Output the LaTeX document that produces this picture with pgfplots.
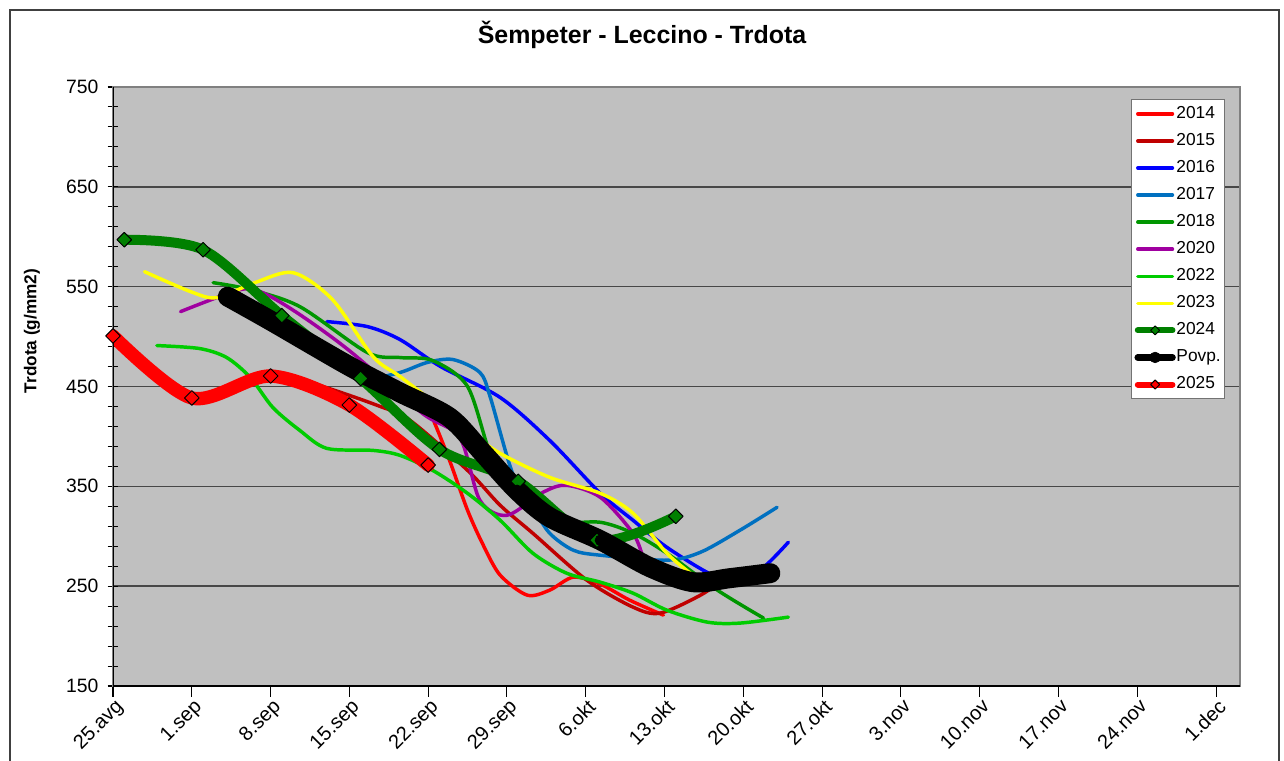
\documentclass[border=0pt]{standalone}
\usepackage{fontspec}
\setmainfont{Liberation Sans}
\usepackage{pgfplots}
\pgfplotsset{compat=1.18}
\definecolor{plotgray}{RGB}{192,192,192}
\definecolor{cA}{RGB}{255,0,0}
\definecolor{cB}{RGB}{192,0,0}
\definecolor{cC}{RGB}{0,0,255}
\definecolor{cD}{RGB}{0,112,192}
\definecolor{cE}{RGB}{0,150,0}
\definecolor{cF}{RGB}{160,0,160}
\definecolor{cG}{RGB}{0,204,0}
\definecolor{cH}{RGB}{255,255,0}
\definecolor{cI}{RGB}{0,128,0}
\pgfplotsset{
  legdiam/.style={legend image code/.code={\draw[##1, line width=4.5pt, mark size=2.4pt, mark repeat=2, mark phase=2] plot coordinates {(0pt,0pt) (13pt,0pt) (26pt,0pt)};}},
  legcirc/.style={legend image code/.code={\draw[##1, line width=5pt, mark size=4pt, mark repeat=2, mark phase=2] plot coordinates {(0pt,0pt) (13pt,0pt) (26pt,0pt)};}},
  legline/.style={legend image code/.code={\draw[##1] (0pt,0pt) -- (26pt,0pt);}},
}
\begin{document}
\begin{tikzpicture}[x=0.75pt,y=0.75pt]
\begin{axis}[
  at={(84.75pt,55.5pt)}, anchor=south west,
  width=845.25pt, height=449.25pt, scale only axis,
  xmin=0, xmax=100.13, ymin=150, ymax=750,
  axis background/.style={fill=plotgray},
  axis line style={draw=black!50, line width=0.8pt},
  xtick={0,7,...,98},
  xticklabels={25.avg,1.sep,8.sep,15.sep,22.sep,29.sep,6.okt,13.okt,20.okt,27.okt,3.nov,10.nov,17.nov,24.nov,1.dec},
  ytick={150,250,...,750},
  minor y tick num=4,
  tick pos=left,
  xtick align=outside, ytick align=center,
  major tick length=8pt, minor tick length=8pt,
  tick style={draw=black, line width=0.8pt},
  ymajorgrids,
  major grid style={draw=black!72, line width=1.1pt},
  /pgf/number format/assume math mode=true,
  /pgf/number format/1000 sep={},
  yticklabel style={font=\fontsize{14.5}{16}\selectfont, xshift=-3.5pt},
  xticklabel style={font=\fontsize{15}{17}\selectfont, rotate=45, anchor=north east, inner sep=1pt, xshift=1pt},
  legend style={at={(0.9035,0.98)}, anchor=north west, draw=black!55, line width=0.8pt, fill=white,
    font=\fontsize{13}{15}\selectfont, row sep=7.8pt, inner xsep=2pt, inner ysep=4.5pt,
    nodes={inner xsep=0.5pt, inner ysep=0pt, text height=9.5pt, text depth=3pt}},
  legend cell align=left,
  legline,
  every axis plot/.append style={smooth, line cap=round, line join=round},
]
% 2014
\addplot[cA, line width=2.6pt, no marks] coordinates {
(27.6,435) (28.4,418) (29.9,376) (31.5,326) (32.9,291) (34.4,261) (36.8,241)
(38.8,246) (40.9,259) (43.3,252) (45.9,236) (48.9,221)};
\addlegendentry{2014}
% 2015
\addplot[cB, line width=2.6pt, no marks] coordinates {
(13.9,466) (18.4,451) (23.5,431) (26.4,416) (31.5,366) (34.4,331) (37.3,303)
(42.1,256) (46.2,229) (48.6,223) (52.2,241) (54.4,258)};
\addlegendentry{2015}
% 2016
\addplot[cC, line width=2.6pt, no marks] coordinates {
(19.0,515) (22.6,510) (25.5,497) (29.1,470) (34.4,439) (38.8,396) (43.3,343)
(46.2,316) (49.2,289) (53.3,261) (55.7,258) (57.8,269) (60.0,294)};
\addlegendentry{2016}
% 2017
\addplot[cD, line width=2.6pt, no marks] coordinates {
(22.0,455) (25.5,464) (27.9,474) (30.2,477) (32.6,464) (33.5,440) (35.5,363)
(37.3,329) (38.8,303) (40.9,286) (43.3,281) (49.2,276) (52.2,284) (55.7,306) (59.0,329)};
\addlegendentry{2017}
% 2018
\addplot[cE, line width=2.6pt, no marks] coordinates {
(8.9,554) (12.2,547) (16.6,530) (22.6,484) (25.5,479) (28.4,476) (31.5,450)
(33.5,383) (35.3,349) (37.3,329) (39.7,314) (43.3,314) (46.2,303) (49.2,283)
(53.7,246) (57.8,218)};
\addlegendentry{2018}
% 2020
\addplot[cF, line width=2.6pt, no marks] coordinates {
(6.0,525) (11.3,547) (13.3,544) (16.6,522) (21.1,485) (27.5,423) (30.8,399)
(32.6,336) (35.0,321) (38.2,344) (40.3,351) (43.3,339) (46.2,303) (47.1,278)};
\addlegendentry{2020}
% 2022
\addplot[cG, line width=2.6pt, no marks] coordinates {
(3.9,491) (7.7,488) (10.1,479) (12.2,459) (14.2,429) (16.6,406) (19.0,388)
(23.1,386) (25.5,381) (28.4,366) (31.5,343) (34.4,316) (37.3,283) (40.3,263)
(43.3,254) (46.2,243) (49.2,226) (52.8,214) (55.7,213) (60.0,219)};
\addlegendentry{2022}
% 2023
\addplot[cH, line width=2.6pt, no marks] coordinates {
(2.8,565) (6.9,545) (9.2,539) (12.6,554) (16.0,564) (19.5,537) (23.1,480)
(25.5,460) (29.3,427) (31.5,406) (34.4,383) (38.8,359) (43.3,343) (46.2,323)
(49.2,283) (51.3,263)};
\addlegendentry{2023}
% 2024
\addplot[cI, line width=7.5pt, mark=square*, mark size=3.9pt,
  mark options={rotate=45, draw=black, fill=cI, line width=0.7pt}, legdiam]
coordinates {
(1,597) (8,587) (15,521) (22,458) (29,387) (36,355) (43,296) (50,320)};
\addlegendentry{2024}
% Povp.
\addplot[black, line width=15pt, mark=*, mark size=4pt,
  mark options={draw=black, fill=black, line width=0.5pt}, legcirc]
coordinates {
(10.2,540) (14.0,516) (20.9,471) (25.5,444) (29.9,419) (32.9,383) (35.9,346)
(38.8,319) (43.3,296) (47.7,269) (51.5,254) (54.8,258) (58.4,263)};
\addlegendentry{Povp.}
% 2025
\addplot[cA, line width=10pt, mark=square*, mark size=3.9pt,
  mark options={rotate=45, draw=black, fill=cA, line width=0.7pt}, legdiam]
coordinates {
(0,500.6) (7,438.5) (14,460.5) (21,431.4) (28,371.3)};
\addlegendentry{2025}
\draw[black, line width=1.2pt] (rel axis cs:0,1) -- (rel axis cs:0,0) -- (rel axis cs:1,0);
\end{axis}
\node[font=\bfseries\fontsize{18.7}{21}\selectfont] at (642,725) {Šempeter - Leccino - Trdota};
\node[rotate=90, font=\bfseries\fontsize{12.9}{14}\selectfont] at (32,429) {Trdota (g/mm2)};
\draw[black!75, line width=1.1pt] (10,-10) -- (10,750) -- (1279,750) -- (1279,-10);
\pgfresetboundingbox
\useasboundingbox (0,0) rectangle (1284,760);
\end{tikzpicture}
\end{document}
